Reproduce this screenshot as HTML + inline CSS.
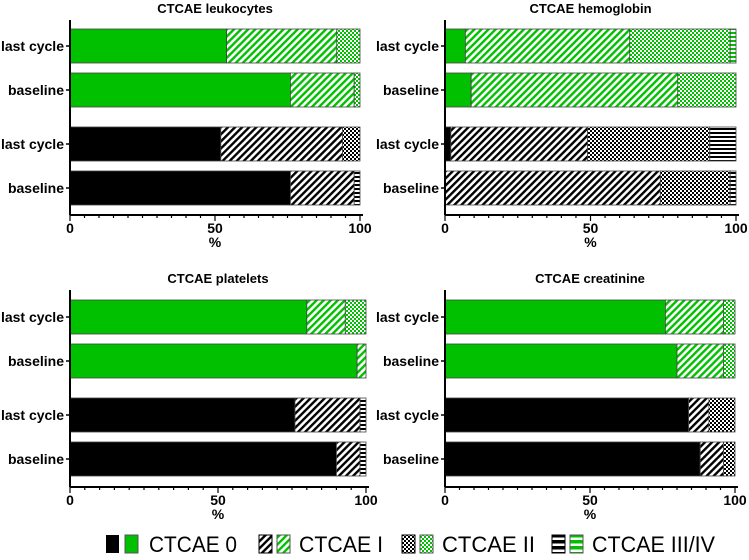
<!DOCTYPE html>
<html><head><meta charset="utf-8"><style>
body{margin:0;background:#fff;width:749px;height:555px;overflow:hidden}
svg text{font-family:"Liberation Sans",sans-serif}
</style></head><body>
<svg id="chart" width="749" height="555" xmlns="http://www.w3.org/2000/svg">
<defs>
<pattern id="diagK" width="5" height="5" patternUnits="userSpaceOnUse" patternTransform="rotate(45)"><rect width="5" height="5" fill="#fff"/><rect width="2.4" height="5" fill="#000"/></pattern>
<pattern id="diagG" width="5" height="5" patternUnits="userSpaceOnUse" patternTransform="rotate(45)"><rect width="5" height="5" fill="#fff"/><rect width="2.4" height="5" fill="#00c000"/></pattern>
<pattern id="chkK" width="4" height="4" patternUnits="userSpaceOnUse"><rect width="4" height="4" fill="#fff"/><rect width="2" height="2" fill="#000"/><rect x="2" y="2" width="2" height="2" fill="#000"/></pattern>
<pattern id="chkG" width="4" height="4" patternUnits="userSpaceOnUse"><rect width="4" height="4" fill="#fff"/><rect width="2" height="2" fill="#00c000"/><rect x="2" y="2" width="2" height="2" fill="#00c000"/></pattern>
<pattern id="horK" width="4" height="4" patternUnits="userSpaceOnUse"><rect width="4" height="4" fill="#fff"/><rect width="4" height="2" fill="#000"/></pattern>
<pattern id="horG" width="4" height="4" patternUnits="userSpaceOnUse"><rect width="4" height="4" fill="#fff"/><rect width="4" height="2" fill="#00c000"/></pattern>
<pattern id="horLK" width="6" height="6" patternUnits="userSpaceOnUse"><rect width="6" height="6" fill="#fff"/><rect width="6" height="3.5" fill="#000"/></pattern>
<pattern id="horLG" width="6" height="6" patternUnits="userSpaceOnUse"><rect width="6" height="6" fill="#fff"/><rect width="6" height="3.5" fill="#00c000"/></pattern>
</defs>
<g id="plots"></g>
<g font-size="22">
<rect x="106" y="535" width="13" height="18" fill="#000"/><rect x="125" y="535" width="13" height="18" fill="#00c000" stroke="#555"/>
<text x="149" y="552" textLength="88" lengthAdjust="spacingAndGlyphs">CTCAE 0</text>
<rect x="259" y="535" width="13" height="18" fill="url(#diagK)" stroke="#000"/><rect x="277" y="535" width="13" height="18" fill="url(#diagG)" stroke="#555"/>
<text x="299" y="552" textLength="84" lengthAdjust="spacingAndGlyphs">CTCAE I</text>
<rect x="402" y="535" width="13" height="18" fill="url(#chkK)" stroke="#000"/><rect x="420" y="535" width="13" height="18" fill="url(#chkG)" stroke="#555"/>
<text x="442" y="552" textLength="93" lengthAdjust="spacingAndGlyphs">CTCAE II</text>
<rect x="552" y="535" width="13" height="18" fill="url(#horLK)" stroke="#000"/><rect x="570" y="535" width="13" height="18" fill="url(#horLG)" stroke="#555"/>
<text x="592" y="552" textLength="123" lengthAdjust="spacingAndGlyphs">CTCAE III/IV</text>
</g>
</svg>
<script>
const categories = ["last cycle","baseline","last cycle","baseline"];
const titles = ["CTCAE leukocytes","CTCAE hemoglobin","CTCAE platelets","CTCAE creatinine"];
const tickLabels = [0,50,100];
// each row: percent in grade 0, I, II, III/IV
const leukocytes = [[54,38,8,0],[76,22,2,0],[52,42,6,0],[76,22,0,2]];
const hemoglobin = [[7,56.5,34.5,2],[9,71,20,0],[2,47,42,9],[0,74,24,2]];
const platelets = [[80,13,7,0],[97,3,0,0],[76,22,0,2],[90,8,0,2]];
const creatinine = [[76,20,4,0],[80,16,4,0],[84,7,9,0],[88,8,4,0]];
const datasets = [leukocytes,hemoglobin,platelets,creatinine];

const NS="http://www.w3.org/2000/svg";
const layouts=[
 {x0:70,x1:360,barY:[29,73,127,171],axisY:215,titleY:13,top:20},
 {x0:445,x1:736,barY:[29,73,127,171],axisY:215,titleY:13,top:20},
 {x0:70,x1:366,barY:[300,344,398,442],axisY:487,titleY:283,top:290},
 {x0:445,x1:735,barY:[300,344,398,442],axisY:487,titleY:283,top:290}];
const fills=[["#000","url(#diagK)","url(#chkK)","url(#horK)"],["#00c000","url(#diagG)","url(#chkG)","url(#horG)"]];
const root=document.getElementById('plots');
function mk(tag,attrs,parent){const e=document.createElementNS(NS,tag);for(const k in attrs)e.setAttribute(k,attrs[k]);parent.appendChild(e);return e;}
datasets.forEach((data,pi)=>{
 const L=layouts[pi];
 const g=mk('g',{},root);
 
 
 const sx=v=>L.x0+(L.x1-L.x0)*v/100;
 const t=mk('text',{x:(L.x0+L.x1)/2,y:L.titleY,'text-anchor':'middle','font-size':'13','font-weight':'bold'},g);
 t.textContent=titles[pi];
 
 
 data.forEach((row,ri)=>{
  const y=L.barY[ri], h=34, grp=ri<2?1:0;
  let cum=0;
  row.forEach((v,si)=>{
   if(v<=0)return;
   const r=mk('rect',{x:sx(cum),y:y,width:sx(cum+v)-sx(cum),height:h,fill:fills[grp][si],stroke:'#444','stroke-width':'0.8'},g);
   
   
   cum+=v;
  });
  const lb=mk('text',{x:L.x0-6,y:y+h/2+5,'text-anchor':'end','font-size':'14','font-weight':'bold'},g);
  lb.textContent=categories[ri];
  
  
  mk('line',{x1:L.x0-4,x2:L.x0,y1:y+h/2,y2:y+h/2,stroke:'#000','stroke-width':'1.5'},g);
 });
 mk('line',{x1:L.x0,x2:L.x0,y1:L.top,y2:L.axisY,stroke:'#000','stroke-width':'2'},g);
 mk('line',{x1:L.x0,x2:L.x1+3,y1:L.axisY,y2:L.axisY,stroke:'#000','stroke-width':'2'},g);
 for(let v=0;v<=100;v+=5){mk('line',{x1:sx(v),x2:sx(v),y1:L.axisY,y2:L.axisY+(v%50===0?6:3),stroke:'#000','stroke-width':'1.2'},g);}
 tickLabels.forEach(v=>{
  const tl=mk('text',{x:sx(v),y:L.axisY+18,'text-anchor':'middle','font-size':'14','font-weight':'bold'},g);
  tl.textContent=v;
  
  
 });
 const xt=mk('text',{x:(L.x0+L.x1)/2,y:L.axisY+32,'text-anchor':'middle','font-size':'14','font-weight':'bold'},g);
 xt.textContent='%';
 
 
});
</script>
</body></html>
